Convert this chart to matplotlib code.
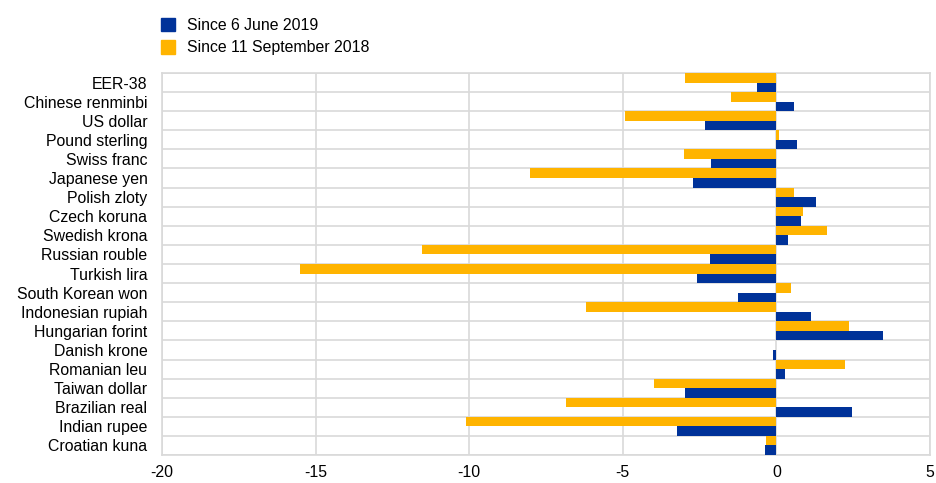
import matplotlib.pyplot as plt
import numpy as np
from matplotlib.patches import Patch

plt.rcParams['font.family'] = ['Liberation Sans', 'DejaVu Sans']

currencies = ["EER-38", "Chinese renminbi", "US dollar", "Pound sterling", "Swiss franc",
              "Japanese yen", "Polish zloty", "Czech koruna", "Swedish krona", "Russian rouble",
              "Turkish lira", "South Korean won", "Indonesian rupiah", "Hungarian forint",
              "Danish krone", "Romanian leu", "Taiwan dollar", "Brazilian real",
              "Indian rupee", "Croatian kuna"]
since_jun_2019 = [-0.62, 0.56, -2.32, 0.66, -2.13, -2.70, 1.29, 0.80, 0.38, -2.17,
                  -2.57, -1.24, 1.12, 3.47, -0.10, 0.28, -2.97, 2.45, -3.24, -0.36]
since_sep_2018 = [-2.98, -1.49, -4.92, 0.08, -3.02, -8.02, 0.58, 0.88, 1.64, -11.55,
                  -15.51, 0.49, -6.21, 2.37, 0.0, 2.24, -4.00, -6.85, -10.11, -0.34]
x_ticks = [-20, -15, -10, -5, 0, 5]

blue = '#003299'
orange = '#FFB400'
grid = '#D9D9D9'
fs = 11.4

fig = plt.figure(figsize=(9.36, 4.83), dpi=100)
ax = fig.add_axes([162 / 936, 1 - 455 / 483, 768 / 936, 382 / 483])

y = np.arange(len(currencies))
h = 0.5
ax.barh(y - h / 2, since_sep_2018, height=h, color=orange, zorder=3)
ax.barh(y + h / 2, since_jun_2019, height=h, color=blue, zorder=3)

ax.set_xlim(-20, 5)
ax.set_ylim(len(currencies) - 0.5, -0.5)
ax.set_xticks(x_ticks)
ax.set_xticklabels([str(t) for t in x_ticks], fontsize=fs)
ax.set_yticks(y)
ax.set_yticklabels(currencies, fontsize=fs)
ax.tick_params(length=0)
ax.tick_params(axis='y', pad=10.5)
ax.tick_params(axis='x', pad=7)

# grid: vertical at ticks, horizontal between categories
for t in x_ticks:
    ax.axvline(t, color=grid, lw=1.2, zorder=1)
for b in np.arange(-0.5, len(currencies), 1.0):
    ax.axhline(b, color=grid, lw=1.2, zorder=1)
for s in ax.spines.values():
    s.set_color(grid)
    s.set_linewidth(1.2)

handles = [Patch(color=blue, label="Since 6 June 2019"),
           Patch(color=orange, label="Since 11 September 2018")]
fig.legend(handles=handles, loc='upper left', bbox_to_anchor=(147 / 936, 1 - 4 / 483),
           frameon=False, fontsize=fs, handlelength=0.85, handleheight=0.9,
           handletextpad=0.8, labelspacing=0.45)

fig.savefig('out.png', dpi=100)
